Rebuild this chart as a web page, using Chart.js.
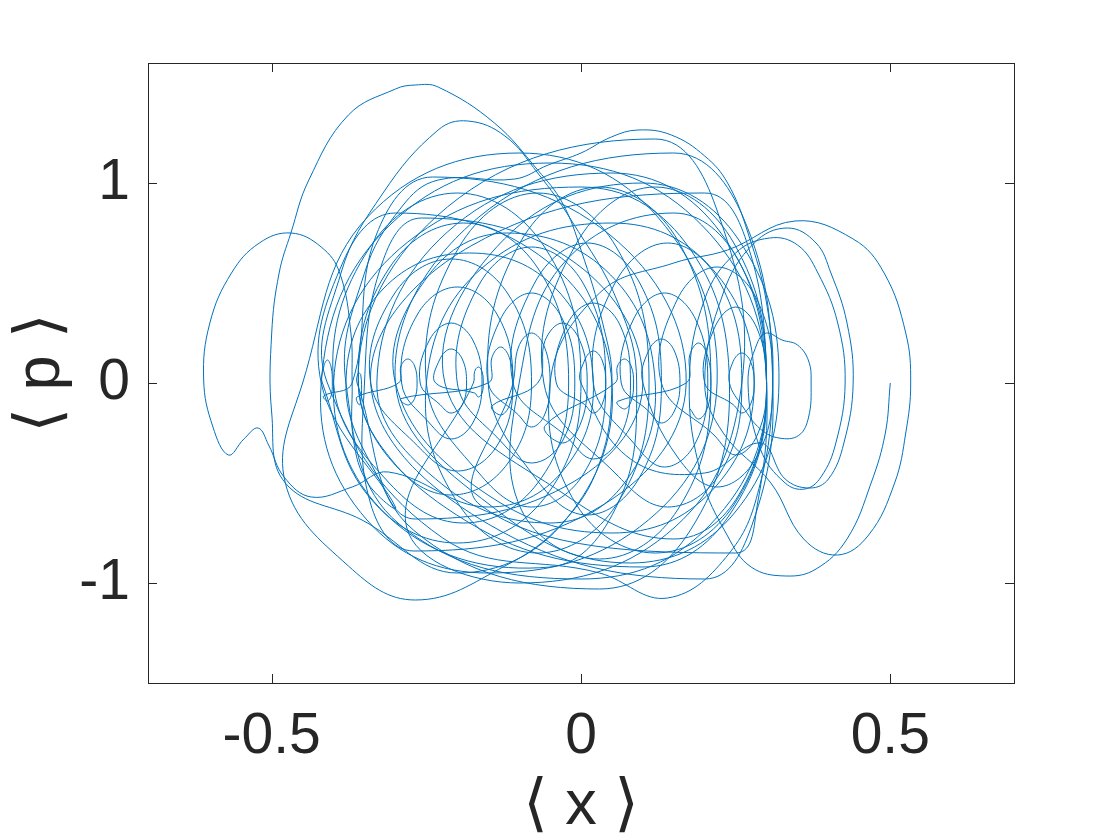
<!DOCTYPE html>
<html>
<head>
<meta charset="utf-8">
<title>phase portrait</title>
<script src="https://cdn.jsdelivr.net/npm/chart.js@4/dist/chart.umd.min.js"></script>
<style>
  html, body { margin: 0; padding: 0; background: #fff; }
  #plot { display: block; }
</style>
</head>
<body>
<canvas id="plot" width="1120" height="840"></canvas>
<script>
// axis ticks
const xTicks = [-0.5, 0, 0.5];
const pTicks = [-1, 0, 1];
const xLabel = "\u27E8 x \u27E9";
const pLabel = "\u27E8 p \u27E9";

// trajectory, [<x>, <p>] in order of travel
const startArc = [
  [0.500, 0.000], [0.492, -0.250], [0.469, -0.500], [0.430, -0.780], [0.380, -0.930],
  [0.331, -0.965], [0.275, -0.920], [0.237, -0.765], [0.195, -0.470], [0.175, 0.000],
  [0.200, 0.420], [0.250, 0.650], [0.305, 0.725], [0.350, 0.690], [0.383, 0.550],
  [0.415, 0.300], [0.427, 0.000], [0.412, -0.300], [0.388, -0.470], [0.362, -0.530],
  [0.330, -0.500], [0.290, -0.330], [0.270, 0.000], [0.285, 0.200], [0.300, 0.250],
  [0.325, 0.215], [0.350, 0.190], [0.368, 0.110], [0.372, 0.000], [0.368, -0.170],
  [0.352, -0.262], [0.320, -0.275], [0.290, -0.230], [0.262, -0.120]
];

const rightNest = [
  [0.240, 0.000], [0.246, 0.108], [0.260, 0.150], [0.274, 0.108], [0.280, 0.000], [0.274, -0.108], [0.260, -0.150], [0.246, -0.108],
  [0.200, 0.000], [0.215, 0.270], [0.250, 0.380], [0.285, 0.270], [0.300, 0.000], [0.285, -0.260], [0.250, -0.360], [0.215, -0.260],
  [0.130, 0.000], [0.156, 0.420], [0.220, 0.580], [0.284, 0.420], [0.310, 0.000], [0.284, -0.370], [0.220, -0.520], [0.156, -0.370],
  [0.100, 0.000], [0.109, 0.160], [0.130, 0.220], [0.151, 0.160], [0.160, 0.000], [0.151, -0.140], [0.130, -0.200], [0.109, -0.140],
  [0.065, 0.000], [0.085, 0.320], [0.135, 0.450], [0.185, 0.320], [0.205, 0.000], [0.185, -0.300], [0.135, -0.420], [0.085, -0.300],
  [0.020, 0.000], [0.055, 0.500], [0.140, 0.700], [0.225, 0.500], [0.260, 0.000], [0.225, -0.450], [0.140, -0.620], [0.055, -0.450],
  [-0.060, 0.000], [-0.007, 0.700], [0.120, 0.980], [0.247, 0.700], [0.300, 0.000], [0.247, -0.610], [0.120, -0.850], [-0.007, -0.610]
];

const outerRight = [
  [-0.050, 0.000], [0.030, 0.450], [0.150, 0.600], [0.237, 0.665], [0.346, 0.810], [0.440, 0.720],
  [0.490, 0.550], [0.525, 0.250], [0.533, 0.000], [0.525, -0.250], [0.507, -0.500], [0.465, -0.760],
  [0.415, -0.860], [0.360, -0.780], [0.307, -0.500], [0.230, -0.250], [0.200, 0.000], [0.230, 0.450],
  [0.280, 0.700], [0.334, 0.775], [0.380, 0.700], [0.404, 0.550], [0.430, 0.300], [0.440, 0.000],
  [0.425, -0.300], [0.400, -0.480], [0.370, -0.525], [0.330, -0.480], [0.290, -0.300], [0.200, -0.450],
  [0.080, -0.380]
];

const centreNest = [
  [0.000, 0.000], [0.006, 0.115], [0.020, 0.160], [0.034, 0.115], [0.040, 0.000], [0.034, -0.108], [0.020, -0.150], [0.006, -0.108],
  [-0.040, 0.000], [-0.023, 0.290], [0.020, 0.400], [0.063, 0.290], [0.080, 0.000], [0.063, -0.270], [0.020, -0.380], [-0.023, -0.270],
  [-0.110, 0.000], [-0.075, 0.500], [0.010, 0.700], [0.095, 0.500], [0.130, 0.000], [0.095, -0.470], [0.010, -0.660], [-0.075, -0.470],
  [-0.150, 0.000], [-0.097, 0.710], [0.030, 0.980], [0.157, 0.710], [0.210, 0.000], [0.157, -0.630], [0.030, -0.880], [-0.097, -0.630],
  [-0.100, 0.000], [-0.025, 0.610], [0.150, 0.850], [0.255, 0.610], [0.300, 0.000], [0.255, -0.560], [0.150, -0.780], [-0.025, -0.560],
  [-0.220, 0.000], [-0.124, 0.720], [0.100, 1.000], [0.254, 0.720], [0.320, 0.000], [0.248, -0.650], [0.080, -0.900], [-0.130, -0.650],
  [-0.300, 0.000], [-0.165, 0.830], [0.150, 1.150], [0.262, 0.830], [0.310, 0.000], [0.277, -0.705], [0.200, -0.980], [-0.150, -0.705],
  [-0.340, 0.000], [-0.178, 0.685], [0.200, 0.950], [0.270, 0.685], [0.300, 0.000], [0.285, -0.610], [0.250, -0.850], [-0.163, -0.610]
];

const middleNest = [
  [-0.110, 0.000], [-0.101, 0.180], [-0.080, 0.250], [-0.059, 0.180], [-0.050, 0.000], [-0.059, -0.160], [-0.080, -0.220], [-0.101, -0.160],
  [-0.150, 0.000], [-0.130, 0.320], [-0.080, 0.450], [-0.030, 0.320], [-0.010, 0.000], [-0.030, -0.290], [-0.080, -0.400], [-0.130, -0.290],
  [-0.200, 0.000], [-0.165, 0.490], [-0.080, 0.680], [0.005, 0.490], [0.040, 0.000], [0.005, -0.450], [-0.080, -0.620], [-0.165, -0.450],
  [-0.250, 0.000], [-0.197, 0.680], [-0.070, 0.950], [0.057, 0.680], [0.110, 0.000], [0.057, -0.610], [-0.070, -0.850], [-0.197, -0.610],
  [-0.250, 0.000], [-0.160, 0.575], [0.050, 0.800], [0.211, 0.575], [0.280, 0.000], [0.211, -0.540], [0.050, -0.750], [-0.160, -0.540],
  [-0.300, 0.000], [-0.246, 0.540], [-0.120, 0.750], [0.048, 0.540], [0.120, 0.000], [0.069, -0.505], [-0.050, -0.700], [-0.225, -0.505],
  [-0.330, 0.000], [-0.216, 0.755], [0.050, 1.050], [0.225, 0.755], [0.300, 0.000], [0.240, -0.660], [0.100, -0.920], [-0.201, -0.660],
  [-0.360, 0.000], [-0.216, 0.880], [0.120, 1.220], [0.218, 0.880], [0.260, 0.000], [0.152, -0.720], [-0.100, -1.000], [-0.282, -0.720]
];

const leftNest = [
  [-0.174, 0.000], [-0.172, 0.057], [-0.166, 0.080], [-0.160, 0.057], [-0.158, 0.000], [-0.160, -0.050], [-0.166, -0.070], [-0.172, -0.050],
  [-0.235, 0.000], [-0.228, 0.120], [-0.210, 0.170], [-0.192, 0.120], [-0.185, 0.000], [-0.192, -0.108], [-0.210, -0.150], [-0.228, -0.108],
  [-0.260, 0.000], [-0.245, 0.215], [-0.210, 0.300], [-0.175, 0.215], [-0.160, 0.000], [-0.175, -0.200], [-0.210, -0.280], [-0.245, -0.200],
  [-0.290, 0.000], [-0.264, 0.345], [-0.200, 0.480], [-0.136, 0.345], [-0.110, 0.000], [-0.136, -0.315], [-0.200, -0.440], [-0.264, -0.315],
  [-0.340, 0.000], [-0.302, 0.445], [-0.210, 0.620], [-0.118, 0.445], [-0.080, 0.000], [-0.118, -0.400], [-0.210, -0.560], [-0.302, -0.400],
  [-0.360, 0.000], [-0.310, 0.575], [-0.190, 0.800], [-0.070, 0.575], [-0.020, 0.000], [-0.070, -0.500], [-0.190, -0.700], [-0.310, -0.500],
  [-0.400, 0.000], [-0.341, 0.680], [-0.200, 0.950], [-0.059, 0.680], [0.000, 0.000], [-0.059, -0.575], [-0.200, -0.800], [-0.341, -0.575],
  [-0.418, 0.000], [-0.416, 0.080], [-0.410, 0.115], [-0.404, 0.080], [-0.402, 0.000], [-0.404, -0.065], [-0.410, -0.090], [-0.416, -0.065],
  [-0.370, 0.000], [-0.331, 0.740], [-0.240, 1.030], [0.047, 0.740], [0.170, 0.000], [0.038, -0.605], [-0.270, -0.840], [-0.340, -0.605],
  [-0.350, 0.000], [-0.322, 0.595], [-0.258, 0.825], [-0.007, 0.595], [0.100, 0.000], [-0.010, -0.490], [-0.268, -0.680], [-0.325, -0.490],
  [-0.380, 0.000], [-0.320, 0.470], [-0.180, 0.650], [-0.040, 0.470], [0.020, 0.000], [-0.031, -0.445], [-0.150, -0.620], [-0.311, -0.445]
];

const leftLobe = [
  [-0.370, -0.520], [-0.436, -0.570], [-0.480, -0.470], [-0.505, -0.310], [-0.522, -0.225], [-0.545, -0.280],
  [-0.570, -0.360], [-0.595, -0.220], [-0.610, 0.015], [-0.600, 0.300], [-0.565, 0.550], [-0.520, 0.700],
  [-0.469, 0.750], [-0.420, 0.680], [-0.390, 0.550], [-0.372, 0.250], [-0.370, 0.000], [-0.368, -0.280],
  [-0.345, -0.500], [-0.300, -0.620]
];

const outerLeft = [
  [-0.420, 0.000], [-0.384, 0.610], [-0.300, 0.850], [-0.055, 0.610], [0.050, 0.000], [-0.025, -0.685], [-0.200, -0.950], [-0.354, -0.685],
  [-0.478, -0.500], [-0.500, -0.150], [-0.500, 0.250], [-0.488, 0.550], [-0.469, 0.750], [-0.440, 1.015], [-0.376, 1.340],
  [-0.300, 1.470], [-0.268, 1.490], [-0.231, 1.480], [-0.140, 1.300], [-0.070, 1.065], [-0.030, 0.900], [0.000, 0.665],
  [0.035, 0.300], [0.050, 0.000], [0.030, -0.400], [-0.030, -0.700], [-0.123, -0.915], [-0.268, -1.085], [-0.376, -0.915],
  [-0.478, -0.500]
];

const bigLoops = [
  [-0.450, 0.000], [-0.345, 0.830], [-0.100, 1.150], [0.124, 0.830], [0.220, 0.000], [0.109, -0.685], [-0.150, -0.950], [-0.346, -0.685],
  [-0.420, 0.000], [-0.309, 0.790], [-0.050, 1.100], [0.195, 0.790], [0.300, 0.000], [0.210, -0.705], [0.000, -0.980], [-0.294, -0.705],
  [-0.380, 0.000], [-0.350, 0.550], [-0.290, 0.880], [-0.231, 1.015], [-0.107, 1.020], [-0.053, 1.090], [0.000, 1.150], [0.049, 1.230],
  [0.092, 1.265], [0.146, 1.240], [0.200, 1.135], [0.237, 1.000], [0.270, 0.750], [0.300, 0.400], [0.310, 0.000], [0.290, -0.500],
  [0.240, -0.850], [0.140, -1.075], [0.030, -0.950], [-0.224, -0.774],
  [-0.410, 0.000], [-0.388, 0.550], [-0.320, 0.950], [-0.231, 1.265], [-0.183, 1.310], [-0.123, 1.235], [-0.070, 1.050],
  [-0.016, 0.815], [0.060, 0.400], [0.090, 0.000], [0.060, -0.600], [-0.050, -0.920], [-0.300, -0.700],
  [-0.400, 0.000], [-0.280, 0.705], [0.000, 0.980], [0.168, 0.705], [0.240, 0.000], [0.177, -0.735], [0.030, -1.030], [-0.271, -0.735]
];

// small loops and the hairpin near x = -0.36
const smallLoops = [
  [-0.362, 0.000], [-0.360, 0.050], [-0.356, 0.040], [-0.355, -0.060], [-0.358, -0.110], [-0.362, -0.070],
  [-0.295, 0.000], [-0.291, 0.085], [-0.280, 0.120], [-0.269, 0.085], [-0.265, 0.000], [-0.269, -0.078], [-0.280, -0.110], [-0.291, -0.078],
  [-0.150, 0.000], [-0.144, 0.128], [-0.130, 0.180], [-0.116, 0.128], [-0.110, 0.000], [-0.116, -0.114], [-0.130, -0.160], [-0.144, -0.114],
  [-0.070, 0.000], [-0.058, 0.213], [-0.030, 0.300], [-0.002, 0.213], [0.010, 0.000], [-0.002, -0.213], [-0.030, -0.300], [-0.058, -0.213],
  [0.055, 0.000], [0.059, 0.085], [0.070, 0.120], [0.081, 0.085], [0.085, 0.000], [0.081, -0.092], [0.070, -0.130], [0.059, -0.092],
  [0.170, 0.000], [0.176, 0.142], [0.190, 0.200], [0.204, 0.142], [0.210, 0.000], [0.204, -0.128], [0.190, -0.180], [0.176, -0.128]
];

const trajectory = [...startArc, ...rightNest, ...outerRight, ...centreNest, ...middleNest,
  ...leftNest, ...leftLobe, ...outerLeft, ...bigLoops, ...smallLoops];

const inkColor = "#262626";
const fontFamily = "'Liberation Sans', Arial, Helvetica, 'DejaVu Sans', sans-serif";

// MATLAB style box with inward ticks on all four sides
const axesBox = {
  id: "axesBox",
  afterDatasetsDraw(chart) {
    const { ctx, chartArea: a, scales } = chart;
    const tick = 9;
    ctx.save();
    ctx.strokeStyle = inkColor;
    ctx.lineWidth = 1;
    ctx.strokeRect(a.left + 0.5, a.top + 0.5, a.right - a.left, a.bottom - a.top);
    ctx.beginPath();
    xTicks.forEach(v => {
      const px = Math.round(scales.x.getPixelForValue(v)) + 0.5;
      ctx.moveTo(px, a.bottom); ctx.lineTo(px, a.bottom - tick);
      ctx.moveTo(px, a.top); ctx.lineTo(px, a.top + tick);
    });
    pTicks.forEach(v => {
      const py = Math.round(scales.y.getPixelForValue(v)) + 0.5;
      ctx.moveTo(a.left, py); ctx.lineTo(a.left + tick, py);
      ctx.moveTo(a.right, py); ctx.lineTo(a.right - tick, py);
    });
    ctx.stroke();
    ctx.restore();
  }
};

new Chart(document.getElementById("plot").getContext("2d"), {
  type: "scatter",
  data: {
    datasets: [{
      data: trajectory.map(([x, p]) => ({ x: x, y: p })),
      showLine: true,
      borderColor: "#0072BD",
      borderWidth: 1,
      pointRadius: 0,
      tension: 0.4,
      fill: false
    }]
  },
  options: {
    responsive: false,
    animation: false,
    devicePixelRatio: 1,
    layout: { padding: { top: 63, right: 106, left: 0, bottom: 0 } },
    plugins: { legend: { display: false }, tooltip: { enabled: false } },
    scales: {
      x: {
        type: "linear", min: -0.7, max: 0.7,
        afterBuildTicks: s => { s.ticks = xTicks.map(v => ({ value: v })); },
        afterFit: s => { s.height = 157; },
        grid: { display: false, drawTicks: false },
        border: { display: false },
        ticks: { color: inkColor, padding: 20, font: { family: fontFamily, size: 57 }, callback: v => String(v) },
        title: { display: true, text: xLabel, color: inkColor, padding: { top: 0, bottom: 2 },
                 font: { family: fontFamily, size: 63, lineHeight: 1 } }
      },
      y: {
        type: "linear", min: -1.5, max: 1.6,
        afterBuildTicks: s => { s.ticks = pTicks.map(v => ({ value: v })); },
        afterFit: s => { s.width = 148; },
        grid: { display: false, drawTicks: false },
        border: { display: false },
        ticks: { color: inkColor, padding: 18, font: { family: fontFamily, size: 57 }, callback: v => String(v) },
        title: { display: true, text: pLabel, color: inkColor, padding: { top: 10, bottom: 0 },
                 font: { family: fontFamily, size: 63, lineHeight: 1 } }
      }
    }
  },
  plugins: [axesBox]
});
</script>
</body>
</html>
